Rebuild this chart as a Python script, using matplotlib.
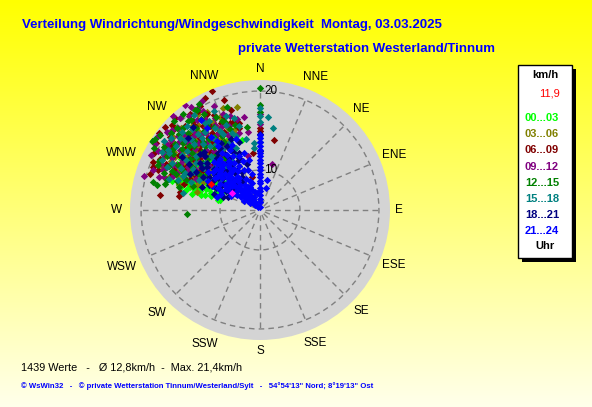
import numpy as np
import matplotlib
matplotlib.use("Agg")
import matplotlib.pyplot as plt
from matplotlib.patches import Rectangle

# wind direction (deg) and speed (km/h) per time slot
h00_03 = [(346, 14.1), (337, 12.5), (301, 15.3), (290, 14.8), (288, 12.9), (283, 10.4), (294, 10.5),
          (315, 13.9), (335, 14.7), (298, 13.2), (306, 14.6), (292, 16.0), (285, 12.1), (310, 12.4),
          (300, 11.6), (296, 15.6), (304, 16.4), (289, 11.5), (318, 15.2), (326, 13.0), (283, 13.8),
          (299, 17.0), (312, 16.8), (293, 13.6), (308, 11.0), (322, 11.8), (287, 15.7), (302, 12.2),
          (315, 14.4), (284, 10.2),
          (286, 11.4), (291, 12.3), (295, 11.0), (298, 14.1), (303, 13.5), (288, 14.3), (293, 15.2),
          (297, 12.7), (301, 10.8), (305, 12.9), (284, 12.6), (290, 13.1), (296, 14.5), (299, 9.8),
          (307, 13.3), (292, 11.9), (287, 13.5), (294, 16.5), (300, 15.9), (289, 10.9), (302, 14.9),
          (306, 15.7), (296, 10.1), (285, 14.6), (311, 14.0), (298, 11.3), (293, 14.0), (304, 11.4),
          (309, 15.2), (290, 15.5), (313, 12.9), (295, 13.2), (288, 16.7), (300, 13.0), (317, 16.1),
          (303, 16.9), (291, 10.6), (297, 15.1), (286, 15.3), (308, 13.0)]
h03_06 = [(331.6, 19.0), (297, 16.6), (291.6, 13.5), (334, 14.5), (341, 15.4), (292.9, 16.3), (286, 13.2),
          (347.4, 18.3), (296.6, 16.3), (318, 16.9), (310, 14.8), (325, 17.1), (304, 18.1), (314, 15.6),
          (321, 18.7), (307, 12.8), (329, 14.0), (300, 15.0), (316, 19.3), (312, 17.6), (323, 12.5),
          (299, 17.8), (327, 16.2), (337, 17.8), (303, 13.9), (319, 14.0), (294, 18.5), (332, 15.1),
          (308, 19.0), (288, 15.7),
          (295, 14.4), (301, 16.0), (306, 17.2), (311, 15.9), (315, 17.8), (320, 16.3), (324, 15.1),
          (328, 18.4), (333, 16.8), (339, 16.1), (343, 15.7), (298, 18.9), (303, 15.3), (309, 13.2),
          (313, 18.5), (317, 14.6), (322, 17.6), (326, 13.4), (330, 16.9), (336, 13.6), (290, 17.2),
          (293, 15.5), (305, 19.6), (310, 19.3), (318, 18.1), (321, 13.5), (327, 19.4), (332, 17.5),
          (296, 13.0), (302, 17.6), (307, 16.4), (312, 14.1), (316, 16.0), (324, 18.2), (329, 15.3),
          (335, 16.6), (289, 14.1), (299, 15.7), (314, 20.2), (340, 18.7)]
h06_09 = [(307.2, 21.0), (302, 19.3), (294.2, 19.8), (291.4, 18.8), (293.9, 18.1), (279.8, 15.3),
          (282.7, 15.3), (338, 21.2), (343.7, 16.7), (346.4, 16.3), (345.6, 15.65), (11.3, 14.0),
          (353, 12.2), (346.4, 9.2), (278.5, 17.7), (0, 15.3), (0, 14.9),
          (316, 18.0), (309, 17.2), (323, 19.0), (301, 17.9), (328, 16.4), (313, 19.9), (320, 14.6),
          (305, 16.0), (334, 18.3), (297, 19.2), (317, 20.8), (326, 17.8), (310, 15.1), (339, 17.5),
          (303, 20.6), (321, 12.8), (314, 13.2), (330, 20.2), (295, 16.9), (307, 14.1), (324, 16.2),
          (342, 19.6), (300, 15.8), (318, 16.1), (288, 19.6), (311, 20.9), (298, 14.3), (335, 15.8),
          (292, 17.0), (296, 18.2), (299, 16.2), (304, 17.3), (306, 18.9), (309, 19.6), (312, 16.7),
          (315, 15.7), (319, 17.6), (322, 18.4), (325, 15.4), (329, 17.3), (332, 16.1), (336, 17.0),
          (341, 16.6), (344, 18.1), (289, 15.1), (294, 14.7), (302, 14.0), (307, 15.6), (311, 18.0),
          (314, 20.4), (318, 19.2), (324, 20.0), (327, 14.6), (331, 18.8), (334, 20.7), (338, 15.0),
          (298, 20.2), (301, 18.6), (305, 13.7), (310, 17.0), (316, 14.3), (320, 16.8), (296, 15.6),
          (303, 19.2), (313, 14.9), (323, 13.3), (328, 19.7), (292, 19.5)]
h09_12 = [(324.7, 21.3), (328.7, 20.05), (317.2, 21.2), (305.4, 19.4), (299.8, 19.0), (290.5, 19.4),
          (286.3, 20.2), (292.4, 18.2), (350.2, 16.9), (351.3, 14.9), (347.5, 11.9), (14.6, 10.95),
          (300.6, 17.9), (0, 17.1), (0, 15.8),
          (318, 17.5), (310, 18.3), (325, 18.8), (303, 16.6), (332, 17.2), (315, 19.6), (321, 15.8),
          (308, 15.0), (297, 17.4), (328, 15.6), (313, 16.2), (336, 19.4), (300, 19.8), (319, 20.4),
          (306, 20.9), (294, 16.4), (340, 16.3), (323, 13.8), (311, 13.5), (331, 14.2), (316, 12.9),
          (302, 14.7), (288, 18.4), (326, 20.6), (345, 15.0), (312, 20.0), (298, 15.2), (322, 17.0),
          (291, 16.8), (295, 18.8), (298, 17.0), (301, 15.6), (304, 19.0), (307, 17.6), (309, 16.3),
          (312, 18.9), (314, 14.8), (317, 16.5), (320, 18.0), (323, 19.8), (325, 16.9), (329, 18.4),
          (331, 16.0), (334, 17.9), (337, 15.2), (342, 17.4), (289, 17.8), (293, 15.3), (297, 20.4),
          (300, 16.7), (303, 18.2), (306, 14.2), (310, 20.3), (315, 18.3), (318, 15.2), (322, 14.4),
          (327, 17.5), (330, 19.4), (335, 16.6), (339, 18.0), (296, 14.0), (302, 20.6), (308, 19.3),
          (313, 17.4), (319, 13.9), (326, 14.9), (332, 20.5), (346, 16.8)]
h12_15 = [(314.7, 19.7), (302.5, 21.2), (304.1, 21.0), (300.3, 20.5), (305, 18.4), (293.8, 19.1),
          (284.7, 19.0), (283.6, 18.4), (285.3, 17.4), (266.9, 14.2), (351.1, 15.6), (322.5, 19.3),
          (327.8, 19.9), (0, 20.4), (0, 18.2), (0, 17.4),
          (320, 16.2), (312, 17.1), (328, 17.6), (306, 15.9), (317, 18.3), (324, 14.8), (309, 14.3),
          (333, 15.4), (299, 16.8), (315, 15.3), (321, 19.4), (327, 20.1), (311, 19.8), (303, 18.0),
          (296, 17.7), (338, 16.9), (342, 18.6), (308, 17.4), (318, 13.6), (326, 12.9), (313, 12.2),
          (301, 13.9), (292, 15.0), (330, 19.0), (316, 20.6), (289, 16.1), (334, 13.4), (307, 20.8),
          (288, 17.3), (291, 18.0), (294, 17.2), (297, 16.0), (300, 18.5), (302, 15.1), (305, 17.0),
          (308, 18.6), (310, 16.2), (313, 19.0), (316, 17.0), (319, 15.6), (322, 18.1), (325, 17.2),
          (328, 15.9), (331, 17.0), (335, 18.0), (340, 15.9), (286, 15.6), (290, 14.0), (293, 16.5),
          (296, 19.2), (299, 14.8), (303, 19.5), (306, 13.9), (311, 17.8), (314, 16.6), (317, 19.2),
          (320, 13.9), (324, 16.0), (327, 18.7), (332, 14.7), (337, 17.2), (344, 16.2), (298, 12.3),
          (304, 13.1), (309, 15.4), (315, 14.2), (321, 20.5), (330, 20.4)]
h15_18 = [(302, 18.5), (282.5, 14.9), (5, 16.75), (9, 15.45), (355, 13.5), (354.5, 12.8), (296, 15.5),
          (300.6, 19.4), (0, 17.8), (0, 16.9), (0, 16.1), (0, 13.6),
          (318, 14.2), (326, 15.0), (310, 15.5), (333, 16.1), (315, 16.7), (321, 17.4), (305, 17.0),
          (328, 18.0), (312, 18.6), (298, 16.3), (322, 13.1), (336, 14.4), (307, 13.8), (316, 12.5),
          (300, 14.6), (330, 12.3), (313, 17.9), (319, 19.1), (325, 19.6), (309, 19.5), (294, 15.6),
          (289, 17.1), (340, 15.3), (344, 17.0), (303, 12.0), (318, 10.9), (327, 11.3), (311, 11.6),
          (296, 13.5), (335, 18.8), (306, 19.9), (297, 18.9),
          (298, 17.6), (301, 14.9), (304, 16.2), (307, 18.3), (310, 14.1), (313, 15.4), (316, 17.5),
          (319, 16.0), (322, 15.3), (325, 17.0), (328, 14.1), (331, 16.8), (334, 15.6), (338, 16.5),
          (342, 14.8), (346, 15.9), (292, 14.3), (295, 17.9), (300, 12.9), (303, 18.8), (306, 15.0),
          (309, 16.9), (312, 12.8), (315, 18.9), (318, 13.6), (321, 16.6), (324, 12.2), (327, 15.8),
          (330, 17.9), (333, 13.9), (336, 12.7), (340, 17.6), (297, 11.6), (305, 11.1), (313, 10.4),
          (320, 18.3), (329, 11.9), (339, 13.3), (290, 16.0), (349, 14.1)]
h18_21 = [(316, 8.6), (323, 9.3), (309, 10.1), (330, 10.8), (318, 11.4), (302, 11.9), (325, 12.2),
          (312, 12.7), (335, 13.0), (320, 13.5), (306, 14.0), (327, 14.3), (314, 14.7), (297, 14.9),
          (315, 17.8), (321, 18.5), (300, 13.3), (308, 12.1), (313, 9.4), (328, 11.6), (319, 10.2),
          (296, 11.2), (306, 9.3), (332, 9.7), (338, 14.6), (304, 16.9), (303, 15.6), (324, 13.9),
          (317, 12.0), (292, 12.8), (289, 11.1), (316, 15.1), (309, 13.6), (289, 9.9), (292, 9.3),
          (0, 14.6), (0, 12.4),
          (305, 10.7), (311, 11.2), (314, 12.3), (319, 13.0), (323, 11.4), (326, 10.6), (329, 12.6),
          (333, 14.1), (336, 11.8), (340, 12.6), (343, 13.9), (300, 10.8), (303, 12.6), (308, 14.6),
          (312, 13.9), (330, 14.8), (338, 12.0), (310, 8.9), (318, 9.6), (327, 9.2), (335, 10.3),
          (296, 12.1), (301, 14.4), (307, 11.6), (313, 15.4), (328, 13.3), (344, 11.0), (299, 9.9),
          (304, 8.6)]
h21_24 = [(0, 14.4), (0, 14.0), (0, 13.5), (0, 13.1), (0, 12.6), (0, 12.2), (0, 11.8), (0, 11.3),
          (0, 10.9), (0, 10.4), (0, 10.0), (0, 9.5), (0, 9.1), (0, 8.6), (0, 8.3), (0, 7.7), (0, 7.4),
          (0, 6.8), (0, 6.3), (0, 5.9), (0, 5.3),
          (318, 5.4), (322, 5.9), (315, 6.3), (326, 6.1), (310, 6.7), (330, 6.6), (319, 7.0), (313, 7.3),
          (325, 7.5), (305, 7.8), (334, 7.9), (320, 8.1), (316, 8.4), (309, 8.7), (328, 8.6), (322, 9.0),
          (300, 9.2), (314, 9.4), (336, 9.3), (318, 9.8), (307, 9.9), (325, 10.1), (312, 10.3), (296, 10.5),
          (330, 10.6), (320, 10.9), (303, 11.0), (316, 11.3), (341, 11.5), (324, 11.6), (309, 11.8),
          (318, 12.1), (328, 12.3), (313, 12.6), (299, 12.4), (321, 12.9), (306, 13.1), (316, 13.4),
          (326, 13.6), (327, 14.6), (328, 15.2), (326, 16.1), (327, 17.3), (327, 18.6), (317, 6.0),
          (321, 6.8), (312, 7.6), (327, 8.0), (318, 8.9), (311, 9.6), (323, 9.6), (315, 10.6), (327, 11.1),
          (313, 11.9), (322, 12.4), (317, 13.0), (329, 13.1), (337, 13.9), (341, 14.4),
          (292, 10.2), (287, 10.6), (302, 10.0), (334, 12.6), (338, 10.4), (345, 7.3), (340, 8.8),
          (350, 7.1), (336, 8.1), (305, 6.5), (297, 11.7), (13, 8.8), (15, 7.8),
          (300, 7.3), (303, 8.4), (307, 6.9), (311, 8.0), (314, 5.8), (317, 7.8), (321, 7.4), (324, 8.3),
          (328, 7.1), (331, 8.2), (335, 6.8), (339, 7.6), (343, 8.5), (347, 9.6), (302, 9.7), (306, 10.4),
          (310, 11.2), (313, 9.9), (319, 10.5), (323, 11.0), (327, 9.8), (331, 11.8), (335, 11.1),
          (339, 12.2), (343, 10.2), (296, 9.0), (298, 11.0), (305, 11.9), (309, 12.6), (314, 12.0),
          (318, 12.7), (322, 13.2), (326, 12.0), (333, 13.4), (344, 12.4), (347, 11.4)]
current = [(298, 11.9)]
marked = [(301, 9.1)]

slots = ["00...03", "03...06", "06...09", "09...12", "12...15", "15...18", "18...21", "21...24"]
slot_data = [h00_03, h03_06, h06_09, h09_12, h12_15, h15_18, h18_21, h21_24]
slot_colors = ["#00ff00", "#808000", "#800000", "#800080", "#008000", "#008080", "#000080", "#0000ff"]

compass = ["N", "NNE", "NE", "ENE", "E", "ESE", "SE", "SSE",
           "S", "SSW", "SW", "WSW", "W", "WNW", "NW", "NNW"]
label_r = [22.8, 23.2, 23.1, 23.3, 22.55, 23.3, 23.1, 23.2,
           22.8, 23.3, 23.4, 23.9, 23.05, 23.9, 23.4, 23.3]

n_values = 1439
mean_speed = "12,8"
max_speed = "21,4"
v_min, v_max = 4.94, 21.4

fig = plt.figure(figsize=(5.92, 4.07), dpi=100)

# yellow gradient background
bg = fig.add_axes([0, 0, 1, 1], zorder=-5)
grad = np.zeros((256, 1, 3))
grad[:, 0, 0] = 1.0
grad[:, 0, 1] = 1.0
grad[:, 0, 2] = np.linspace(0.0, 0.92, 256)
bg.imshow(grad, aspect="auto", extent=[0, 1, 0, 1], origin="upper")
bg.axis("off")

ax = fig.add_axes([130 / 592, 67 / 407, 260 / 592, 260 / 407], projection="polar")
ax.set_theta_zero_location("N")
ax.set_theta_direction(-1)
ax.set_facecolor("#d4d4d4")
ax.spines["polar"].set_visible(False)
ax.set_ylim(v_min, v_max)
ax.set_yticks([10, 20])
ax.set_yticklabels([])
ax.set_xticks([])
ax.set_axisbelow(True)
ax.yaxis.grid(True, color="#808080", linestyle=(0, (4, 3)), linewidth=1)
ax.xaxis.grid(False)

for i in range(16):
    a = np.deg2rad(i * 22.5)
    ax.plot([a, a], [5.6, 20], color="#808080", linestyle=(0, (4, 3)), linewidth=1, zorder=1)

for pts, col in zip(slot_data, slot_colors):
    d = np.deg2rad([p[0] for p in pts])
    s = [p[1] for p in pts]
    ax.scatter(d, s, marker="D", s=14, color=col, linewidths=0, zorder=3)

ax.scatter(np.deg2rad([p[0] for p in marked]), [p[1] for p in marked],
           marker="D", s=14, color="#ff00ff", linewidths=0, zorder=4)
ax.scatter(np.deg2rad([p[0] for p in current]), [p[1] for p in current],
           marker="D", s=14, color="#ff0000", linewidths=0, zorder=4)

font = ["Liberation Sans"]
for i, name in enumerate(compass):
    ax.text(np.deg2rad(i * 22.5), label_r[i], name, ha="center", va="center",
            fontsize=8.5, family=font, clip_on=False)

for v in [10, 20]:
    ax.annotate(str(v), xy=(0, v), xytext=(3, 0), textcoords="offset points",
                ha="left", va="center", fontsize=8.5, family=font)

# titles
fig.text(22 / 592, 1 - 25 / 407, "Verteilung Windrichtung/Windgeschwindigkeit  Montag, 03.03.2025",
         color="#0000ff", fontsize=9.55, fontweight="bold", family=font, va="center", ha="left")
fig.text(238 / 592, 1 - 49 / 407, "private Wetterstation Westerland/Tinnum",
         color="#0000ff", fontsize=9.55, fontweight="bold", family=font, va="center", ha="left")

fig.text(21 / 592, 1 - 368 / 407,
         f"{n_values} Werte   -   Ø {mean_speed}km/h  -  Max. {max_speed}km/h",
         fontsize=7.8, family=font, va="center", ha="left")
fig.text(21 / 592, 1 - 386 / 407,
         "© WsWin32   -   © private Wetterstation Tinnum/Westerland/Sylt   -   54°54'13\" Nord; 8°19'13\" Ost",
         fontsize=5.6, fontweight="bold", color="#0000ff", family=font, va="center", ha="left")

# legend box with shadow
fig.patches.append(Rectangle((522 / 592, 1 - 262 / 407), 54 / 592, 193 / 407,
                             transform=fig.transFigure, facecolor="black", edgecolor="none", zorder=1))
fig.patches.append(Rectangle((518 / 592, 1 - 258 / 407), 54 / 592, 193 / 407,
                             transform=fig.transFigure, facecolor="white", edgecolor="black",
                             linewidth=1, zorder=2))
cx = 545 / 592
fig.text(cx, 1 - 75 / 407, "km/h", fontsize=8, fontweight="bold", family=font, ha="center", va="center")
fig.text(549 / 592, 1 - 93 / 407, f"{current[0][1]:.1f}".replace(".", ","), fontsize=8,
         color="#ff0000", family=font, ha="center", va="center")
for i, (lab, col) in enumerate(zip(slots, slot_colors)):
    fig.text(542 / 592, 1 - (118 + i * 16.2) / 407, lab, fontsize=8, fontweight="bold",
             color=col, family=font, ha="center", va="center")
fig.text(cx, 1 - 246 / 407, "Uhr", fontsize=8, fontweight="bold", family=font, ha="center", va="center")

fig.savefig("out.png", dpi=100)
